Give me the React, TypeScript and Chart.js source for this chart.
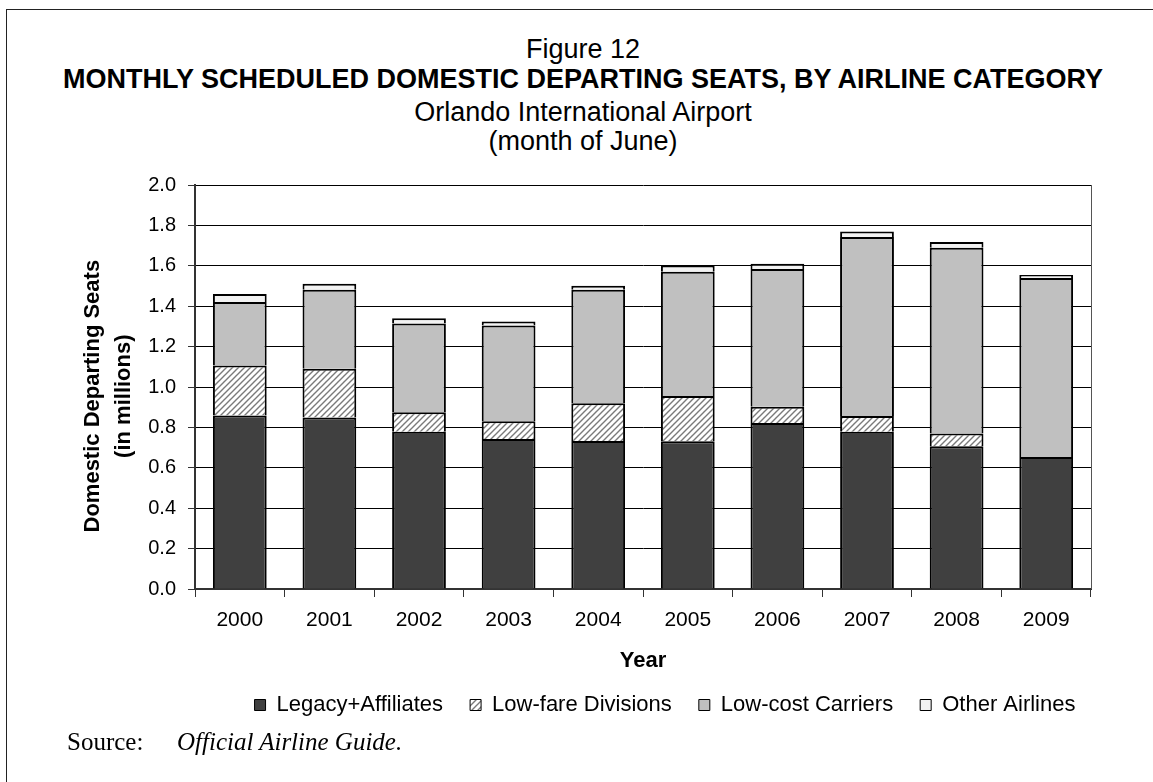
import React, { useEffect, useRef } from 'react';
import { Chart, registerables } from 'chart.js';

Chart.register(...registerables);

const years = ['2000', '2001', '2002', '2003', '2004', '2005', '2006', '2007', '2008', '2009'];
const legacyAffiliates = [0.859, 0.849, 0.778, 0.743, 0.733, 0.731, 0.822, 0.778, 0.707, 0.654];
const lowFareDivisions = [0.248, 0.241, 0.097, 0.088, 0.186, 0.225, 0.08, 0.079, 0.063, 0];
const lowCostCarriers = [0.314, 0.392, 0.439, 0.473, 0.562, 0.614, 0.682, 0.885, 0.919, 0.885];
const otherAirlines = [0.039, 0.029, 0.026, 0.02, 0.02, 0.031, 0.026, 0.028, 0.029, 0.016];
const seriesNames = ['Legacy+Affiliates', 'Low-fare Divisions', 'Low-cost Carriers', 'Other Airlines'];
const yAxisTitle = ['Domestic Departing Seats   ', '(in millions)   '];
const xAxisTitle = 'Year';

const FONT = "'Liberation Sans', Arial, sans-serif";

function makeHatch(): CanvasPattern | string {
  const c = document.createElement('canvas');
  c.width = 6;
  c.height = 6;
  const g = c.getContext('2d');
  if (!g) return '#ddd';
  g.fillStyle = '#ffffff';
  g.fillRect(0, 0, 6, 6);
  g.strokeStyle = '#7a7a7a';
  g.lineWidth = 1.4;
  g.beginPath();
  g.moveTo(0, 6); g.lineTo(6, 0);
  g.moveTo(-3, 3); g.lineTo(3, -3);
  g.moveTo(3, 9); g.lineTo(9, 3);
  g.stroke();
  const p = g.createPattern(c, 'repeat');
  return p || '#ddd';
}

const framePlugin = {
  id: 'frameAndLegendPos',
  afterLayout(chart: any) {
    const lg = chart.legend;
    if (lg) {
      const dx = 665 - (lg.left + lg.right) / 2;
      const dy = 667 - lg.top;
      lg.left += dx; lg.right += dx; lg.top += dy; lg.bottom += dy;
    }
  },
  afterDraw(chart: any) {
    const { ctx, chartArea } = chart;
    ctx.save();
    ctx.strokeStyle = '#555';
    ctx.lineWidth = 1;
    ctx.beginPath();
    ctx.moveTo(Math.round(chartArea.right) + 0.5, chartArea.top);
    ctx.lineTo(Math.round(chartArea.right) + 0.5, chartArea.bottom);
    ctx.stroke();
    ctx.restore();
  },
};

function ChartView() {
  const ref = useRef<HTMLCanvasElement | null>(null);
  useEffect(() => {
    if (!ref.current) return;
    const hatch = makeHatch();
    const common = { borderColor: '#000', borderWidth: 2, barPercentage: 0.6, categoryPercentage: 1.0 };
    const chart = new Chart(ref.current, {
      type: 'bar',
      data: {
        labels: years,
        datasets: [
          { label: seriesNames[0], data: legacyAffiliates, backgroundColor: '#404040', ...common },
          { label: seriesNames[1], data: lowFareDivisions, backgroundColor: hatch as any, ...common },
          { label: seriesNames[2], data: lowCostCarriers, backgroundColor: '#c0c0c0', ...common },
          { label: seriesNames[3], data: otherAirlines, backgroundColor: '#f2f2f2', ...common },
        ],
      },
      options: {
        animation: false,
        responsive: false,
        devicePixelRatio: 1,
        layout: { padding: { left: 70, right: 62, top: 185, bottom: 44 } },
        plugins: {
          title: { display: false },
          tooltip: { enabled: false },
          legend: {
            position: 'bottom',
            labels: {
              boxWidth: 11,
              boxHeight: 11,
              padding: 27,
              color: '#000',
              font: { family: FONT, size: 22 },
              generateLabels: (ch: any) => {
                const items = Chart.defaults.plugins.legend.labels.generateLabels(ch);
                return items.map((it: any) => ({ ...it, lineWidth: 1 }));
              },
            },
          },
        },
        scales: {
          x: {
            stacked: true,
            offset: true,
            grid: { drawOnChartArea: false, offset: true, tickLength: 8, color: '#333', lineWidth: 1 },
            border: { display: true, color: '#333', width: 2 },
            ticks: { color: '#000', font: { family: FONT, size: 21 }, padding: 11, maxRotation: 0, autoSkip: false },
            title: { display: true, text: xAxisTitle, color: '#000', font: { family: FONT, size: 22, weight: 'bold' }, padding: { top: 0, bottom: 5 } },
            afterFit: (s: any) => { s.height = 90; },
          },
          y: {
            stacked: true,
            min: 0,
            max: 2,
            ticks: {
              stepSize: 0.2,
              color: '#000',
              font: { family: FONT, size: 20 },
              padding: 12,
              callback: (v: any) => Number(v).toFixed(1),
            },
            grid: { color: '#000', lineWidth: 1, tickLength: 7, tickColor: '#333' },
            border: { display: true, color: '#333', width: 2 },
            title: {
              display: true,
              text: yAxisTitle,
              color: '#000',
              font: { family: FONT, size: 22, weight: 'bold', lineHeight: 1.4 },
              padding: { top: 8, bottom: 0 },
            },
            afterFit: (s: any) => { s.width = 125; },
          },
        },
      },
      plugins: [framePlugin],
    } as any);
    return () => chart.destroy();
  }, []);
  return <canvas ref={ref} width={1153} height={782} style={{ position: 'absolute', left: 0, top: 0, display: 'block' }} />;
}

const titleLine = (top: number, text: string, bold = false) => (
  <div
    style={{
      position: 'absolute',
      left: 0,
      width: 1166,
      top,
      textAlign: 'center',
      fontFamily: FONT,
      fontSize: 27,
      lineHeight: '30px',
      fontWeight: bold ? 'bold' : 'normal',
      color: '#000',
      whiteSpace: 'nowrap',
    }}
  >
    {text}
  </div>
);

export default function App() {
  return (
    <div style={{ position: 'absolute', left: 0, top: 0, width: 1153, height: 782, overflow: 'hidden', background: '#fff' }}>
      <div style={{ position: 'absolute', left: 6, top: 9, width: 1200, height: 900, borderTop: '1px solid #222', borderLeft: '1px solid #222' }} />
      {titleLine(34, 'Figure 12')}
      {titleLine(64, 'MONTHLY SCHEDULED DOMESTIC DEPARTING SEATS, BY AIRLINE CATEGORY', true)}
      {titleLine(97, 'Orlando International Airport')}
      {titleLine(126, '(month of June)')}
      <ChartView />
      <div style={{ position: 'absolute', left: 67, top: 727, fontFamily: "'Liberation Serif', 'Times New Roman', serif", fontSize: 25, lineHeight: '30px', color: '#000', whiteSpace: 'nowrap' }}>
        Source:
      </div>
      <div style={{ position: 'absolute', left: 177, top: 727, fontFamily: "'Liberation Serif', 'Times New Roman', serif", fontSize: 25, lineHeight: '30px', fontStyle: 'italic', color: '#000', whiteSpace: 'nowrap' }}>
        Official Airline Guide.
      </div>
    </div>
  );
}
